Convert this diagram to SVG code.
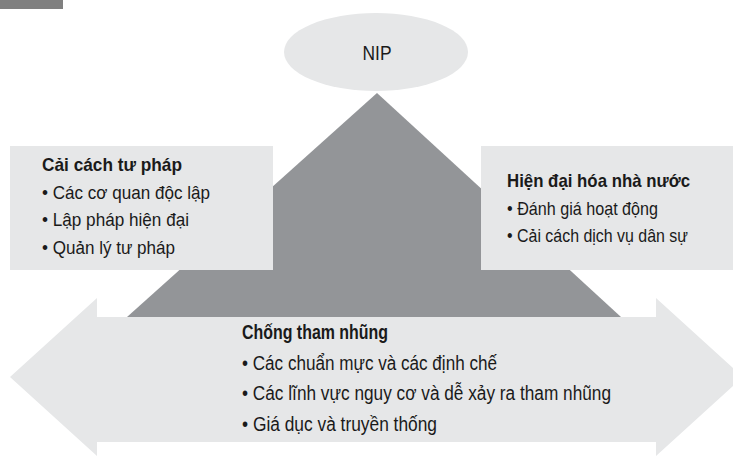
<svg xmlns="http://www.w3.org/2000/svg" width="733" height="457" viewBox="0 0 733 457">
<style>
.panel{fill:#e6e7e8}
.t{font-family:"Liberation Sans",Arial,sans-serif;font-size:19px;fill:#1a1a1a}
.b{font-weight:bold}
.lg{font-size:19.5px}
</style>
<rect x="0" y="0" width="63" height="9" fill="#808080"/>
<g id="pyramid">
<polygon points="377,93 621,317 127,317" fill="#939598"/>
</g>
<g id="nip">
<ellipse cx="376" cy="52" rx="92" ry="39" class="panel"/>
<text class="t" x="377" y="60" text-anchor="middle" textLength="29" lengthAdjust="spacingAndGlyphs" style="font-size:21px">NIP</text>
</g>
<g id="cai-cach-tu-phap">
<rect x="10" y="146" width="263" height="124" class="panel"/>
<text class="t b" x="42" y="171" textLength="140" lengthAdjust="spacingAndGlyphs">Cải cách tư pháp</text>
<text class="t" x="42" y="198.5" textLength="168" lengthAdjust="spacingAndGlyphs">• Các cơ quan độc lập</text>
<text class="t" x="42" y="226" textLength="147" lengthAdjust="spacingAndGlyphs">• Lập pháp hiện đại</text>
<text class="t" x="42" y="253.5" textLength="133" lengthAdjust="spacingAndGlyphs">• Quản lý tư pháp</text>
</g>
<g id="hien-dai-hoa">
<rect x="481" y="146" width="252" height="124" class="panel"/>
<text class="t b" x="507" y="187" textLength="183" lengthAdjust="spacingAndGlyphs">Hiện đại hóa nhà nước</text>
<text class="t" x="507" y="214.5" textLength="151" lengthAdjust="spacingAndGlyphs">• Đánh giá hoạt động</text>
<text class="t" x="507" y="242" textLength="181" lengthAdjust="spacingAndGlyphs">• Cải cách dịch vụ dân sự</text>
</g>
<g id="chong-tham-nhung">
<polygon points="10,377 97,298 97,317 656,317 656,298 743,377 656,456 656,442 97,442 97,456" class="panel"/>
<text class="t b lg" x="242" y="339" textLength="146" lengthAdjust="spacingAndGlyphs">Chống tham nhũng</text>
<text class="t lg" x="242" y="369.5" textLength="255" lengthAdjust="spacingAndGlyphs">• Các chuẩn mực và các định chế</text>
<text class="t lg" x="242" y="400" textLength="369" lengthAdjust="spacingAndGlyphs">• Các lĩnh vực nguy cơ và dễ xảy ra tham nhũng</text>
<text class="t lg" x="242" y="430.5" textLength="195" lengthAdjust="spacingAndGlyphs">• Giá dục và truyền thống</text>
</g>
<g id="connectors"></g>
</svg>
